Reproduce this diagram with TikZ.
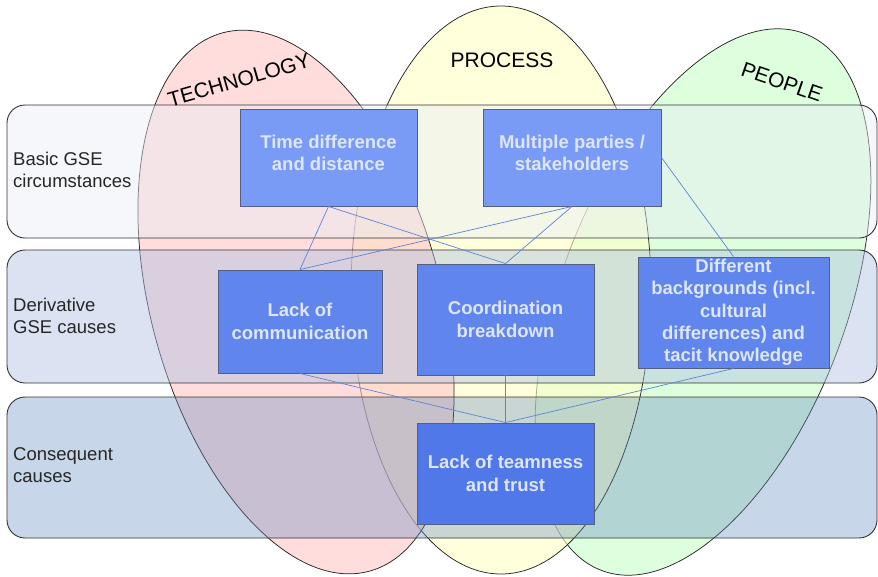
\documentclass[tikz,border=0pt]{standalone}
\usepackage{fontspec}
\setmainfont{Liberation Sans}
\usetikzlibrary{positioning}
\definecolor{techred}{RGB}{255,198,198}
\definecolor{procyellow}{RGB}{255,255,196}
\definecolor{peoplegreen}{RGB}{200,255,200}
\definecolor{bandA}{RGB}{232,237,246}
\definecolor{bandB}{RGB}{175,192,226}
\definecolor{bandC}{RGB}{98,138,192}
\definecolor{boxA}{RGB}{122,155,245}
\definecolor{boxB}{RGB}{96,134,238}
\definecolor{boxC}{RGB}{80,120,232}
\definecolor{boxline}{RGB}{85,95,130}
\definecolor{boxtext}{RGB}{222,230,252}
\definecolor{linkblue}{RGB}{92,132,212}

\begin{document}
\begin{tikzpicture}[x=1pt,y=-1pt,
    area/.style={draw=black!85,line width=.75pt,fill opacity=.6},
    band/.style={draw=black!80,line width=.9pt,rounded corners=18pt},
    cause/.style={draw=boxline,line width=.9pt,inner sep=1pt,align=center,
                  text=boxtext,font=\bfseries\fontsize{18.5}{22.3}\selectfont},
    link/.style={draw=linkblue,line width=.7pt},
    rowlabel/.style={anchor=west,inner sep=0pt,align=left,text=black!85,
                     font=\fontsize{18.5}{22}\selectfont},
    heading/.style={font=\fontsize{21}{24}\selectfont}]
 \useasboundingbox (0,0) rectangle (878,576);

 \path[area,fill=peoplegreen,rotate around={-20.7:(703,302)}]
   (703,302) ellipse [x radius=143pt,y radius=287pt];
 \path[area,fill=procyellow] (501,290) ellipse [x radius=150pt,y radius=284pt];
 \path[area,fill=techred,rotate around={15.3:(296,302)}]
   (296,302) ellipse [x radius=145pt,y radius=279pt];

 \draw[band,fill=bandA,fill opacity=.45] (7,105) rectangle (877,238);
 \draw[band,fill=bandB,fill opacity=.45] (7,250) rectangle (877,383);
 \draw[band,fill=bandC,fill opacity=.35] (7,397) rectangle (877,538);

 \node[rowlabel] (basic) at (13,170) {Basic GSE\\circumstances};
 \node[rowlabel] (derivative) at (13,315.5) {Derivative\\GSE causes};
 \node[rowlabel] (consequent) at (13,465.5) {Consequent\\causes};

 \node[cause,fill=boxA,minimum width=177pt,minimum height=97pt,text depth=10pt]
   (timediff) at (328.5,157.5) {Time difference\\and distance};
 \node[cause,fill=boxA,minimum width=178pt,minimum height=97pt,text depth=10pt]
   (parties) at (572,157.5) {Multiple parties /\\stakeholders};
 \node[cause,fill=boxB,minimum width=164pt,minimum height=103pt]
   (lackcomm) at (300,321.5) {Lack of\\communication};
 \node[cause,fill=boxB,minimum width=177pt,minimum height=111pt]
   (coord) at (505.5,319.5) {Coordination\\breakdown};
 \node[cause,fill=boxB,minimum width=191pt,minimum height=111pt]
   (backgr) at (733.5,312.5) {Different\\backgrounds (incl.\\cultural\\differences) and\\tacit knowledge};
 \node[cause,fill=boxC,minimum width=177pt,minimum height=101pt]
   (teamness) at (505.5,473.5) {Lack of teamness\\and trust};

 \foreach \from/\to in {timediff.south/lackcomm.north,timediff.south/coord.north,
                        parties.south/lackcomm.north,parties.south/coord.north,
                        parties.east/backgr.north,lackcomm.south/teamness.north,
                        coord.south/teamness.north,backgr.south/teamness.north}
   \draw[link] (\from) -- (\to);

 \node[heading,rotate=16] (technology) at (239,80) {TECHNOLOGY};
 \node[heading] (process) at (502,60) {PROCESS};
 \node[heading,rotate=-19] (people) at (782,82) {PEOPLE};
\end{tikzpicture}
\end{document}
